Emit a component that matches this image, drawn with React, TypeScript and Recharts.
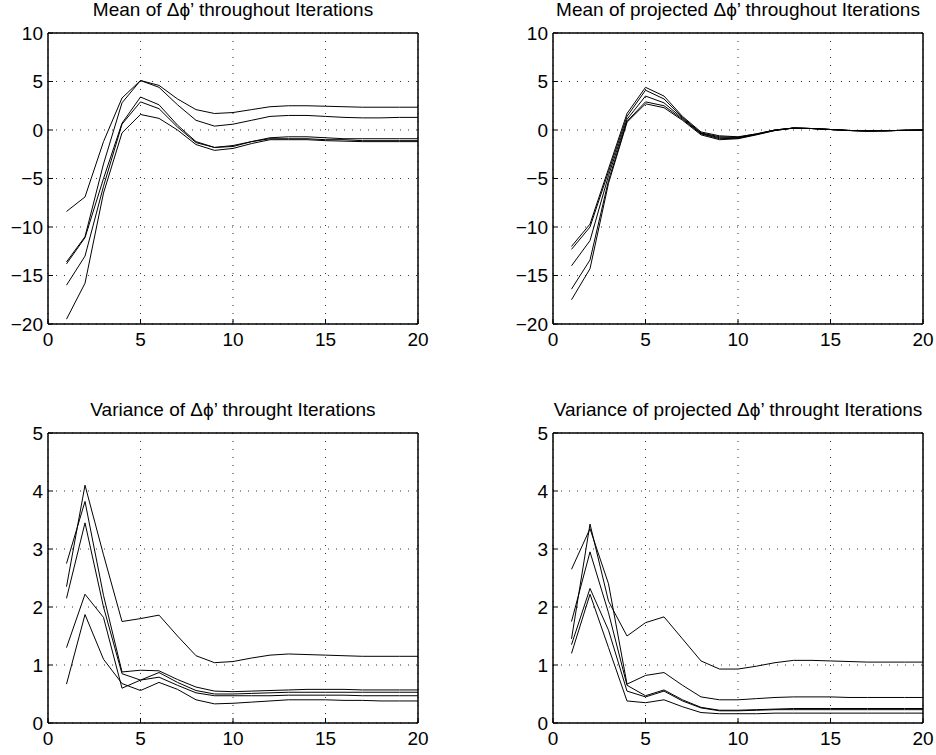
import React from "react"
import { LineChart, Line, XAxis, YAxis, CartesianGrid } from "recharts"

// iteration index (x)
const ITER = [1, 2, 3, 4, 5, 6, 7, 8, 9, 10, 11, 12, 13, 14, 15, 16, 17, 18, 19, 20]

// mean of delta phi'
const mean1 = [-8.4, -6.9, -1.2, 3.3, 5.1, 4.6, 3.2, 2.1, 1.7, 1.8, 2.1, 2.4, 2.5, 2.5, 2.45, 2.4, 2.35, 2.35, 2.35, 2.35]
const mean2 = [-13.6, -11.0, -3.5, 2.8, 5.1, 4.4, 2.6, 1.0, 0.4, 0.6, 1.0, 1.4, 1.5, 1.5, 1.4, 1.3, 1.25, 1.25, 1.3, 1.3]
const mean3 = [-13.8, -11.1, -5.0, 0.7, 3.4, 2.6, 0.5, -1.2, -1.8, -1.7, -1.2, -0.8, -0.7, -0.7, -0.8, -0.9, -0.9, -0.9, -0.9, -0.9]
const mean4 = [-16.0, -13.0, -5.8, 0.6, 2.9, 2.2, 0.3, -1.3, -1.8, -1.6, -1.2, -0.9, -0.9, -0.9, -1.0, -1.0, -1.1, -1.1, -1.1, -1.1]
const mean5 = [-19.5, -15.8, -6.5, -0.3, 1.6, 1.2, 0.0, -1.5, -2.1, -1.9, -1.4, -1.0, -1.0, -1.0, -1.1, -1.15, -1.2, -1.2, -1.2, -1.2]

// mean of projected delta phi'
const pmean1 = [-12.0, -9.7, -4.0, 1.7, 4.4, 3.5, 1.4, -0.2, -0.6, -0.7, -0.4, 0.0, 0.2, 0.15, 0.05, -0.05, -0.1, -0.08, -0.03, 0.0]
const pmean2 = [-12.3, -10.0, -4.3, 1.4, 4.1, 3.2, 1.3, -0.3, -0.7, -0.75, -0.4, 0.0, 0.2, 0.15, 0.05, -0.05, -0.1, -0.08, -0.03, 0.0]
const pmean3 = [-14.0, -11.4, -4.7, 1.1, 3.5, 2.8, 1.2, -0.35, -0.8, -0.8, -0.45, 0.0, 0.2, 0.15, 0.05, -0.05, -0.1, -0.08, -0.03, 0.0]
const pmean4 = [-16.4, -13.4, -5.2, 0.9, 2.9, 2.5, 1.1, -0.4, -0.9, -0.85, -0.45, -0.05, 0.2, 0.15, 0.05, -0.05, -0.1, -0.08, -0.03, 0.0]
const pmean5 = [-17.5, -14.3, -5.5, 0.8, 2.7, 2.3, 1.0, -0.5, -1.0, -0.9, -0.5, -0.05, 0.2, 0.15, 0.05, -0.05, -0.1, -0.08, -0.03, 0.0]

// variance of delta phi'
const var1 = [2.35, 4.1, 2.9, 1.75, 1.8, 1.86, 1.5, 1.16, 1.04, 1.06, 1.12, 1.17, 1.19, 1.18, 1.17, 1.16, 1.15, 1.15, 1.15, 1.15]
const var2 = [2.75, 3.82, 2.2, 0.88, 0.91, 0.9, 0.75, 0.62, 0.55, 0.54, 0.55, 0.56, 0.57, 0.58, 0.58, 0.58, 0.57, 0.57, 0.57, 0.57]
const var3 = [2.15, 3.45, 2.0, 0.85, 0.74, 0.87, 0.7, 0.56, 0.5, 0.5, 0.51, 0.52, 0.53, 0.53, 0.53, 0.53, 0.53, 0.53, 0.53, 0.53]
const var4 = [1.3, 2.22, 1.82, 0.6, 0.74, 0.79, 0.65, 0.52, 0.47, 0.47, 0.47, 0.47, 0.48, 0.48, 0.48, 0.48, 0.47, 0.47, 0.47, 0.47]
const var5 = [0.67, 1.87, 1.1, 0.68, 0.56, 0.7, 0.58, 0.4, 0.33, 0.34, 0.36, 0.38, 0.4, 0.4, 0.4, 0.39, 0.39, 0.38, 0.38, 0.38]

// variance of projected delta phi'
const pvar1 = [1.45, 3.43, 2.1, 1.5, 1.73, 1.83, 1.45, 1.07, 0.93, 0.93, 0.98, 1.04, 1.08, 1.08, 1.07, 1.06, 1.05, 1.05, 1.05, 1.05]
const pvar2 = [2.65, 3.35, 2.4, 0.67, 0.82, 0.87, 0.65, 0.45, 0.4, 0.4, 0.42, 0.44, 0.45, 0.45, 0.45, 0.44, 0.44, 0.44, 0.44, 0.44]
const pvar3 = [1.75, 2.95, 1.9, 0.65, 0.47, 0.57, 0.4, 0.27, 0.22, 0.22, 0.23, 0.24, 0.25, 0.25, 0.25, 0.25, 0.25, 0.25, 0.25, 0.25]
const pvar4 = [1.35, 2.32, 1.6, 0.55, 0.45, 0.55, 0.38, 0.26, 0.21, 0.21, 0.22, 0.23, 0.23, 0.23, 0.23, 0.23, 0.23, 0.23, 0.23, 0.23]
const pvar5 = [1.2, 2.22, 1.3, 0.38, 0.35, 0.4, 0.28, 0.18, 0.16, 0.16, 0.16, 0.17, 0.17, 0.17, 0.17, 0.17, 0.17, 0.17, 0.17, 0.17]

const X_TICKS = [0, 5, 10, 15, 20]
const MEAN_TICKS = [-20, -15, -10, -5, 0, 5, 10]
const VAR_TICKS = [0, 1, 2, 3, 4, 5]

const FONT = "'Liberation Sans', Arial, Helvetica, sans-serif"
const KEYS = ["a", "b", "c", "d", "e"]

function toRows(series: number[][]) {
  return ITER.map((it, i) => {
    const row: Record<string, number> = { it }
    series.forEach((s, k) => {
      row[KEYS[k]] = s[i]
    })
    return row
  })
}

const fmt = (v: number) => String(v).replace("-", "\u2212")

type PanelProps = {
  title: string
  series: number[][]
  yTicks: number[]
  left: number
  top: number
  width: number
  height: number
  plotLeft: number
  plotTop: number
  plotRight: number
  plotBottom: number
}

function Panel(p: PanelProps) {
  const data = toRows(p.series)
  const yDomain = [p.yTicks[0], p.yTicks[p.yTicks.length - 1]]
  const tickStyle = { fill: "#000", fontSize: 19, fontFamily: FONT }
  const frame = { stroke: "#000", strokeWidth: 1.5 }
  return (
    <>
      <div
        style={{
          position: "absolute",
          left: p.plotLeft - 60,
          width: p.plotRight - p.plotLeft + 120,
          top: p.plotTop - 34,
          height: 22,
          lineHeight: "22px",
          textAlign: "center",
          fontFamily: FONT,
          fontSize: 19,
          color: "#000",
          whiteSpace: "nowrap",
        }}
      >
        {p.title}
      </div>
      <div style={{ position: "absolute", left: p.left, top: p.top }}>
        <LineChart
          width={p.width}
          height={p.height}
          data={data}
          margin={{
            top: p.plotTop - p.top - 1,
            right: p.left + p.width - p.plotRight - 1,
            bottom: 0,
            left: 0,
          }}
        >
          <CartesianGrid
            xAxisId="bottom"
            yAxisId="left"
            stroke="#333"
            strokeDasharray="1 7"
          />
          <XAxis
            xAxisId="bottom"
            dataKey="it"
            type="number"
            domain={[0, 20]}
            ticks={X_TICKS}
            height={p.top + p.height - p.plotBottom}
            tick={tickStyle}
            tickSize={-5}
            tickMargin={14}
            axisLine={frame}
            tickLine={{ stroke: "#000" }}
            interval={0}
          />
          <XAxis
            xAxisId="top"
            orientation="top"
            dataKey="it"
            type="number"
            domain={[0, 20]}
            ticks={X_TICKS}
            height={1}
            tick={false}
            tickSize={-5}
            axisLine={frame}
            tickLine={{ stroke: "#000" }}
          />
          <YAxis
            yAxisId="left"
            type="number"
            domain={yDomain}
            ticks={p.yTicks}
            width={p.plotLeft - p.left}
            tick={tickStyle}
            tickFormatter={fmt}
            tickSize={-5}
            tickMargin={10}
            axisLine={frame}
            tickLine={{ stroke: "#000" }}
            interval={0}
          />
          <YAxis
            yAxisId="right"
            orientation="right"
            type="number"
            domain={yDomain}
            ticks={p.yTicks}
            width={1}
            tick={false}
            tickSize={-5}
            axisLine={frame}
            tickLine={{ stroke: "#000" }}
          />
          {KEYS.slice(0, p.series.length).map((k) => (
            <Line
              key={k}
              xAxisId="bottom"
              yAxisId="left"
              type="linear"
              dataKey={k}
              stroke="#000"
              strokeWidth={1}
              dot={false}
              activeDot={false}
              isAnimationActive={false}
            />
          ))}
        </LineChart>
      </div>
    </>
  )
}

export default function App() {
  return (
    <div style={{ position: "absolute", left: 0, top: 0, width: 936, height: 755, background: "#fff" }}>
      <Panel
        title={"Mean of \u0394\u03d5\u2019 throughout Iterations"}
        series={[mean1, mean2, mean3, mean4, mean5]}
        yTicks={MEAN_TICKS}
        left={0}
        top={0}
        width={445}
        height={360}
        plotLeft={48}
        plotTop={33}
        plotRight={418}
        plotBottom={324}
      />
      <Panel
        title={"Mean of projected \u0394\u03d5\u2019 throughout Iterations"}
        series={[pmean1, pmean2, pmean3, pmean4, pmean5]}
        yTicks={MEAN_TICKS}
        left={470}
        top={0}
        width={466}
        height={360}
        plotLeft={553}
        plotTop={33}
        plotRight={923}
        plotBottom={324}
      />
      <Panel
        title={"Variance of \u0394\u03d5\u2019 throught Iterations"}
        series={[var1, var2, var3, var4, var5]}
        yTicks={VAR_TICKS}
        left={0}
        top={390}
        width={445}
        height={365}
        plotLeft={48}
        plotTop={433}
        plotRight={418}
        plotBottom={723}
      />
      <Panel
        title={"Variance of projected \u0394\u03d5\u2019 throught Iterations"}
        series={[pvar1, pvar2, pvar3, pvar4, pvar5]}
        yTicks={VAR_TICKS}
        left={470}
        top={390}
        width={466}
        height={365}
        plotLeft={553}
        plotTop={433}
        plotRight={923}
        plotBottom={723}
      />
    </div>
  )
}
